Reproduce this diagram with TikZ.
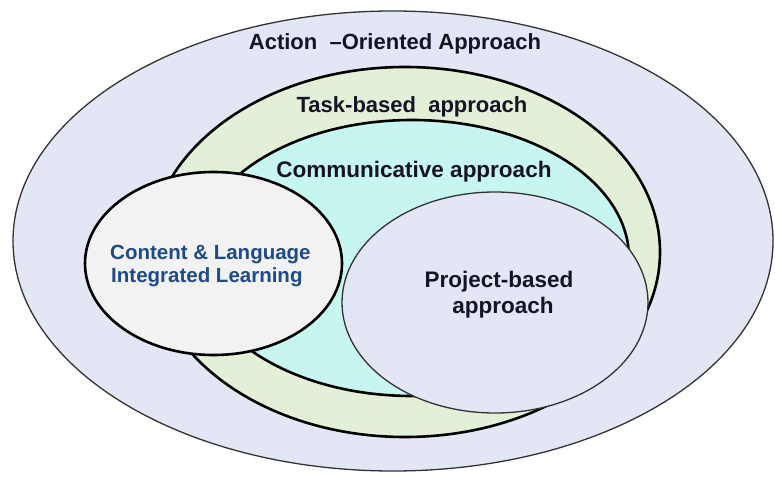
\documentclass[tikz,border=0pt]{standalone}
\usepackage{fontspec}
\setmainfont{Liberation Sans}
\definecolor{lav}{HTML}{E3E6F4}
\definecolor{grn}{HTML}{E3F0D8}
\definecolor{cyn}{HTML}{C7F5EF}
\definecolor{clil}{HTML}{F2F2F2}
\definecolor{ink}{HTML}{141426}
\definecolor{blu}{HTML}{1F4A8A}
\definecolor{thin}{HTML}{333333}
\begin{document}
\begin{tikzpicture}[x=1pt,y=-1pt,
  thinring/.style={draw=thin,line width=1.3pt},
  thickring/.style={draw=black,line width=2.6pt},
  lbl/.style={anchor=base,inner sep=0pt,text=ink,font=\bfseries}]
\useasboundingbox[fill=white] (0,0) rectangle (775,478);
% outer
\path[thinring,fill=lav] (393,241) ellipse (380pt and 230pt);
% task-based
\path[thickring,fill=grn] (405,252) ellipse (255pt and 185pt);
% communicative
\path[thickring,fill=cyn] (412,258) ellipse (217pt and 138pt);
% CLIL
\path[thickring,fill=clil] (213.5,263.5) ellipse (128.5pt and 91.5pt);
% project-based
\path[thinring,fill=lav] (495,302.5) ellipse (153pt and 110.5pt);
% labels
\node[lbl,font=\fontsize{22}{26}\selectfont\bfseries] (aoa) at (395,50) {Action\ \ –Oriented Approach};
\node[lbl,font=\fontsize{22}{26}\selectfont\bfseries] (tba) at (412,113) {Task-based\ \ approach};
\node[lbl,font=\fontsize{22.5}{26}\selectfont\bfseries] (ca) at (414,178) {Communicative approach};
\node[anchor=base west,inner sep=0pt,text=blu,font=\fontsize{20.5}{23}\selectfont\bfseries] (clil1) at (110,259) {Content \& Language};
\node[anchor=base west,inner sep=0pt,text=blu,font=\fontsize{20.5}{23}\selectfont\bfseries] (clil2) at (111,282) {Integrated Learning};
\node[lbl,font=\fontsize{22.5}{26}\selectfont\bfseries] (pb1) at (499,287) {Project-based};
\node[lbl,font=\fontsize{22.5}{26}\selectfont\bfseries] (pb2) at (503,313) {approach};
\end{tikzpicture}
\end{document}
